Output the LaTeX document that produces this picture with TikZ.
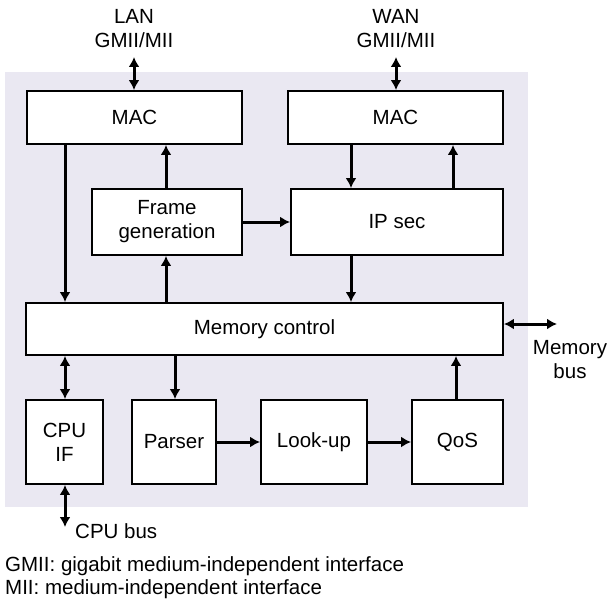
\documentclass[tikz,border=0pt]{standalone}
\usepackage{fontspec}
\setmainfont{Liberation Sans}
\usetikzlibrary{arrows.meta}
\definecolor{bgc}{RGB}{234,232,242}
\begin{document}
\begin{tikzpicture}[x=1pt,y=-1pt,
  every node/.style={font=\fontsize{20.5}{24}\selectfont},
  box/.style={draw=black,line width=1.9pt,fill=white,minimum height=#1,inner sep=0pt,align=center},
  arr/.style={line width=3pt,-{Latex[length=10pt,width=11pt]}},
  darr/.style={line width=3pt,{Latex[length=10pt,width=11pt]}-{Latex[length=10pt,width=11pt]}},
  lbl/.style={align=center,inner sep=0pt}]
\useasboundingbox (0,0) rectangle (607,599);
\fill[bgc] (5,72) rectangle (528,507);
\node[box=53pt,minimum width=215pt] (macL) at (134.5,117.5) {MAC};
\node[box=53pt,minimum width=215pt] (macR) at (395.5,117.5) {MAC};
\node[box=66pt,minimum width=150pt] (frame) at (167,222) {Frame\\generation};
\node[box=66pt,minimum width=212pt] (ipsec) at (397,222) {IP sec};
\node[box=52pt,minimum width=477pt] (mem) at (264.5,329) {Memory control};
\node[box=84pt,minimum width=77pt] (cpu) at (64.5,442) {CPU\\IF};
\node[box=84pt,minimum width=84pt] (parser) at (174,442) {Parser};
\node[box=84pt,minimum width=106pt] (lookup) at (314,442) {Look-up};
\node[box=84pt,minimum width=91pt] (qos) at (457.5,442) {QoS};
\node[lbl] (lan) at (134,29) {LAN\\GMII/MII};
\node[lbl] (wan) at (396,29) {WAN\\GMII/MII};
\node[lbl] (membus) at (570,360) {Memory\\bus};
\node[lbl,anchor=west] (cpubus) at (75,531) {CPU bus};
\node[lbl,anchor=west] (leg1) at (5,566) {GMII: gigabit medium-independent interface};
\node[lbl,anchor=west] (leg2) at (5,589) {MII: medium-independent interface};
\coordinate (lanE) at (134,57);
\coordinate (wanE) at (396,57);
\coordinate (memE) at (557,324);
\coordinate (cpuE) at (65,527);
\draw[darr] (lanE) -- (lanE |- macL.north);
\draw[darr] (wanE) -- (wanE |- macR.north);
\draw[arr] (macL.south -| 65,0) -- (mem.north -| 65,0);
\draw[arr] (mem.north -| 166,0) -- (frame.south -| 166,0);
\draw[arr] (frame.north -| 166,0) -- (macL.south -| 166,0);
\draw[arr] (frame.east |- 0,222) -- (ipsec.west |- 0,222);
\draw[arr] (macR.south -| 351,0) -- (ipsec.north -| 351,0);
\draw[arr] (ipsec.north -| 453,0) -- (macR.south -| 453,0);
\draw[arr] (ipsec.south -| 351,0) -- (mem.north -| 351,0);
\draw[darr] (mem.east |- memE) -- (memE);
\draw[darr] (mem.south -| 65,0) -- (cpu.north -| 65,0);
\draw[arr] (mem.south -| 175,0) -- (parser.north -| 175,0);
\draw[arr] (qos.north -| 456,0) -- (mem.south -| 456,0);
\draw[arr] (parser) -- (lookup);
\draw[arr] (lookup) -- (qos);
\draw[darr] (cpu.south -| cpuE) -- (cpuE);
\end{tikzpicture}
\end{document}
